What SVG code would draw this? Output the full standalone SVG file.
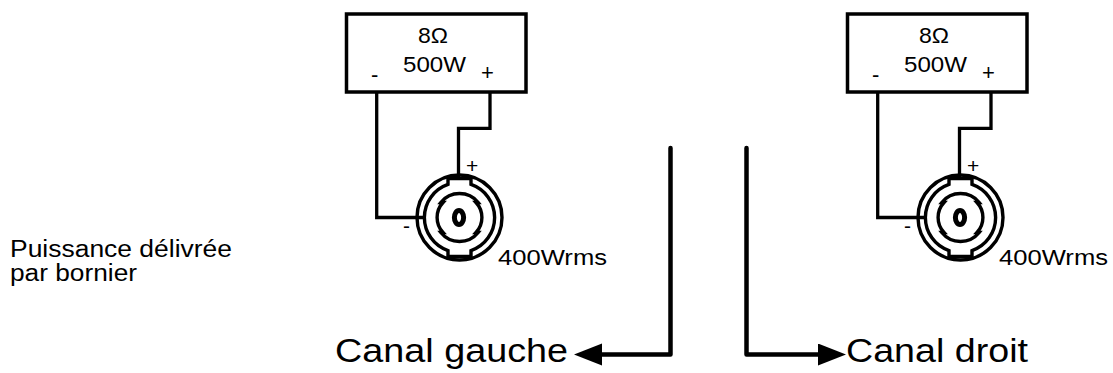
<svg xmlns="http://www.w3.org/2000/svg" width="1113" height="373" viewBox="0 0 1113 373">
<defs>
<style>
.t{font-family:"Liberation Sans",Arial,Helvetica,sans-serif;fill:#000;}
.box{fill:#fff;stroke:#000;stroke-width:3.5;}
.wire{fill:none;stroke:#000;stroke-width:3.3;stroke-linejoin:miter;}
.ring{fill:none;stroke:#000;stroke-width:3.4;}
.arrow{fill:none;stroke:#000;stroke-width:4.5;stroke-linecap:round;stroke-linejoin:round;}
</style>
<marker id="ah" markerUnits="userSpaceOnUse" markerWidth="30" markerHeight="24" refX="2" refY="11" orient="auto" viewBox="0 0 30 24">
<path d="M0,0 L28,11 L0,22 Z" fill="#000"/>
</marker>
</defs>
<rect width="1113" height="373" fill="#fff"/>

<g id="label-puissance">
<text class="t" x="10" y="257" font-size="23" textLength="222" lengthAdjust="spacingAndGlyphs">Puissance délivrée</text>
<text class="t" x="10" y="281" font-size="23" textLength="127" lengthAdjust="spacingAndGlyphs">par bornier</text>
</g>

<g id="connectors">
<g id="wires-left">
<path class="wire" d="M376.7,92 V217.5 H424.5"/>
<path class="wire" d="M490,92 V128.3 H458.5 V178.5"/>
</g>
<g id="wires-right" transform="translate(501,0)">
<path class="wire" d="M376.7,92 V217.5 H424.5"/>
<path class="wire" d="M490,92 V128.3 H458.5 V178.5"/>
</g>
<path class="arrow" d="M670.5,148 V354.5 H600" marker-end="url(#ah)"/>
<path class="arrow" d="M746.5,148 V354.5 H820" marker-end="url(#ah)"/>
</g>

<g id="speaker-left">
<rect class="box" x="346.5" y="14" width="179.5" height="78"/>
<text class="t" x="433" y="43" font-size="22" text-anchor="middle" textLength="30" lengthAdjust="spacingAndGlyphs">8Ω</text>
<text class="t" x="434.5" y="72" font-size="22" text-anchor="middle" textLength="63" lengthAdjust="spacingAndGlyphs">500W</text>
<text class="t" x="371" y="82" font-size="22">-</text>
<text class="t" x="481" y="80" font-size="22">+</text>
</g>

<g id="speaker-right" transform="translate(501,0)">
<rect class="box" x="346.5" y="14" width="179.5" height="78"/>
<text class="t" x="433" y="43" font-size="22" text-anchor="middle" textLength="30" lengthAdjust="spacingAndGlyphs">8Ω</text>
<text class="t" x="434.5" y="72" font-size="22" text-anchor="middle" textLength="63" lengthAdjust="spacingAndGlyphs">500W</text>
<text class="t" x="371" y="82" font-size="22">-</text>
<text class="t" x="481" y="80" font-size="22">+</text>
</g>

<g id="terminal-left">
<circle class="ring" cx="459.5" cy="217.5" r="42.5"/>
<path class="ring" d="M448,184.4 V178.5 H471 V184.4 A35,35 0 0 1 471,250.6 V256.5 H448 V250.6 A35,35 0 0 1 448,184.4 Z"/>
<path class="ring" d="M440.8,202.5 A24,24 0 0 1 478.2,202.5 L476,202.5 A22,22 0 0 1 476,232.5 L478.2,232.5 A24,24 0 0 1 440.8,232.5 L443,232.5 A22,22 0 0 1 443,202.5 Z"/>
<ellipse cx="459" cy="217.5" rx="4.6" ry="7" fill="none" stroke="#000" stroke-width="5"/>
<text class="t" x="466" y="173" font-size="21">+</text>
<text class="t" x="403" y="233" font-size="21">-</text>
<text class="t" x="498" y="265" font-size="22" textLength="109" lengthAdjust="spacingAndGlyphs">400Wrms</text>
</g>

<g id="terminal-right" transform="translate(501,0)">
<circle class="ring" cx="459.5" cy="217.5" r="42.5"/>
<path class="ring" d="M448,184.4 V178.5 H471 V184.4 A35,35 0 0 1 471,250.6 V256.5 H448 V250.6 A35,35 0 0 1 448,184.4 Z"/>
<path class="ring" d="M440.8,202.5 A24,24 0 0 1 478.2,202.5 L476,202.5 A22,22 0 0 1 476,232.5 L478.2,232.5 A24,24 0 0 1 440.8,232.5 L443,232.5 A22,22 0 0 1 443,202.5 Z"/>
<ellipse cx="459" cy="217.5" rx="4.6" ry="7" fill="none" stroke="#000" stroke-width="5"/>
<text class="t" x="466" y="173" font-size="21">+</text>
<text class="t" x="403" y="233" font-size="21">-</text>
<text class="t" x="498" y="265" font-size="22" textLength="109" lengthAdjust="spacingAndGlyphs">400Wrms</text>
</g>

<g id="label-gauche">
<text class="t" x="335" y="362" font-size="34" textLength="233" lengthAdjust="spacingAndGlyphs">Canal gauche</text>
</g>
<g id="label-droit">
<text class="t" x="846" y="362" font-size="34" textLength="182" lengthAdjust="spacingAndGlyphs">Canal droit</text>
</g>
</svg>
